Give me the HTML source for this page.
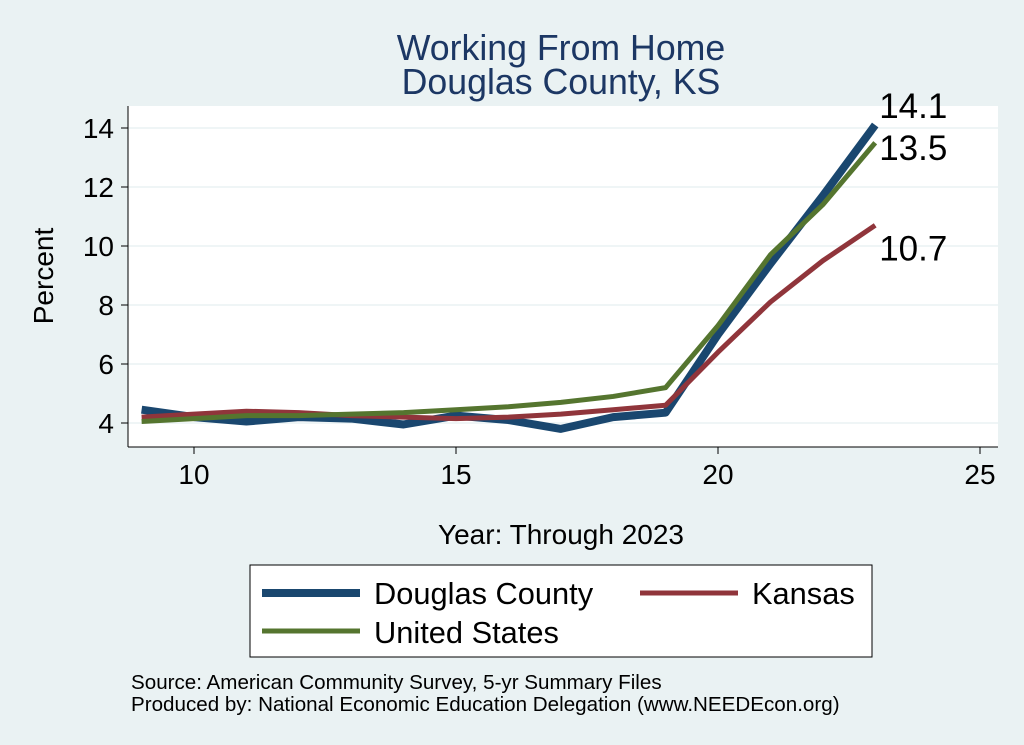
<!DOCTYPE html>
<html><head><meta charset="utf-8"><style>
body{margin:0;background:#eaf2f3;}
svg{display:block;font-family:"Liberation Sans",Arial,sans-serif;}
</style></head><body>
<svg width="1024" height="745" viewBox="0 0 1024 745">
<rect width="1024" height="745" fill="#eaf2f3"/>
<text x="561" y="60" text-anchor="middle" font-size="35.7" fill="#1c3764">Working From Home</text>
<text x="561" y="94" text-anchor="middle" font-size="35.7" fill="#1c3764">Douglas County, KS</text>
<rect x="128" y="106" width="870" height="341" fill="#fff"/>
<g id="grid"></g>
<g id="axes"></g>
<g id="series"></g>
<text x="53" y="276" transform="rotate(-90 53 276)" text-anchor="middle" font-size="28" fill="#000">Percent</text>
<text x="561" y="544" text-anchor="middle" font-size="28" fill="#000">Year: Through 2023</text>
<g>
<rect x="250" y="565" width="622" height="92" fill="#fff" stroke="#000" stroke-width="1"/>
<line x1="262" y1="593" x2="360" y2="593" stroke="#1a476f" stroke-width="8"/>
<text x="374" y="604" font-size="30.8">Douglas County</text>
<line x1="640" y1="593" x2="738" y2="593" stroke="#90353b" stroke-width="5"/>
<text x="752" y="604" font-size="30.8">Kansas</text>
<line x1="262" y1="631" x2="360" y2="631" stroke="#55752f" stroke-width="5"/>
<text x="374" y="643" font-size="30.8">United States</text>
</g>
<text x="131" y="689" font-size="20.6">Source: American Community Survey, 5-yr Summary Files</text>
<text x="131" y="711" font-size="20.6">Produced by: National Economic Education Delegation (www.NEEDEcon.org)</text>
</svg>
<script>
const years=[9,10,11,12,13,14,15,16,17,18,19,20,21,22,23];
const douglas=[4.45,4.2,4.05,4.2,4.15,3.95,4.25,4.1,3.8,4.2,4.35,7.0,9.4,11.7,14.1];
const kansas=[4.2,4.3,4.4,4.35,4.25,4.2,4.15,4.2,4.3,4.45,4.6,6.4,8.1,9.5,10.7];
const us=[4.05,4.15,4.25,4.25,4.3,4.35,4.45,4.55,4.7,4.9,5.2,7.3,9.7,11.4,13.5];
const yTicks=[4,6,8,10,12,14];
const xTicks=[10,15,20,25];
const NS="http://www.w3.org/2000/svg";
const X=v=>194+(v-10)*52.4;
const Y=v=>423-(v-4)*29.5;
function mk(t,a,p){const e=document.createElementNS(NS,t);for(const k in a)e.setAttribute(k,a[k]);p.appendChild(e);return e;}
const grid=document.getElementById('grid'),axes=document.getElementById('axes'),ser=document.getElementById('series');
mk('line',{x1:128,y1:106,x2:128,y2:447,stroke:'#000','stroke-width':1},axes);
mk('line',{x1:128,y1:447,x2:998,y2:447,stroke:'#000','stroke-width':1},axes);
yTicks.forEach(t=>{
 const g=mk('line',{x1:128,y1:Y(t),x2:998,y2:Y(t),stroke:'#eaf2f3','stroke-width':1.5},grid);
 
 
 mk('line',{x1:121,y1:Y(t),x2:128,y2:Y(t),stroke:'#000'},axes);
 const tx=mk('text',{x:114,y:Y(t)+10,'text-anchor':'end','font-size':28},axes);
 tx.textContent=t;
 
 
});
xTicks.forEach(t=>{
 mk('line',{x1:X(t),y1:447,x2:X(t),y2:454,stroke:'#000'},axes);
 const tx=mk('text',{x:X(t),y:484,'text-anchor':'middle','font-size':28},axes);
 tx.textContent=t;
 
 
});
function line(vals,color,w,name){
 const p=mk('polyline',{points:years.map((y,i)=>X(y)+','+Y(vals[i])).join(' '),fill:'none',stroke:color,'stroke-width':w,'stroke-linejoin':'round'},ser);
 
 
}
line(douglas,'#1a476f',8,'douglas-line');
line(kansas,'#90353b',5,'kansas-line');
line(us,'#55752f',5,'us-line');
const last=years.length-1;
[[douglas,-7,'douglas-end-label'],[us,17,'us-end-label'],[kansas,35,'kansas-end-label']].forEach(([v,dy,n])=>{
 const tx=mk('text',{x:X(years[last])+4,y:Y(v[last])+dy,'font-size':35},ser);
 tx.textContent=v[last].toFixed(1);
 
 
});
</script>
</body></html>
